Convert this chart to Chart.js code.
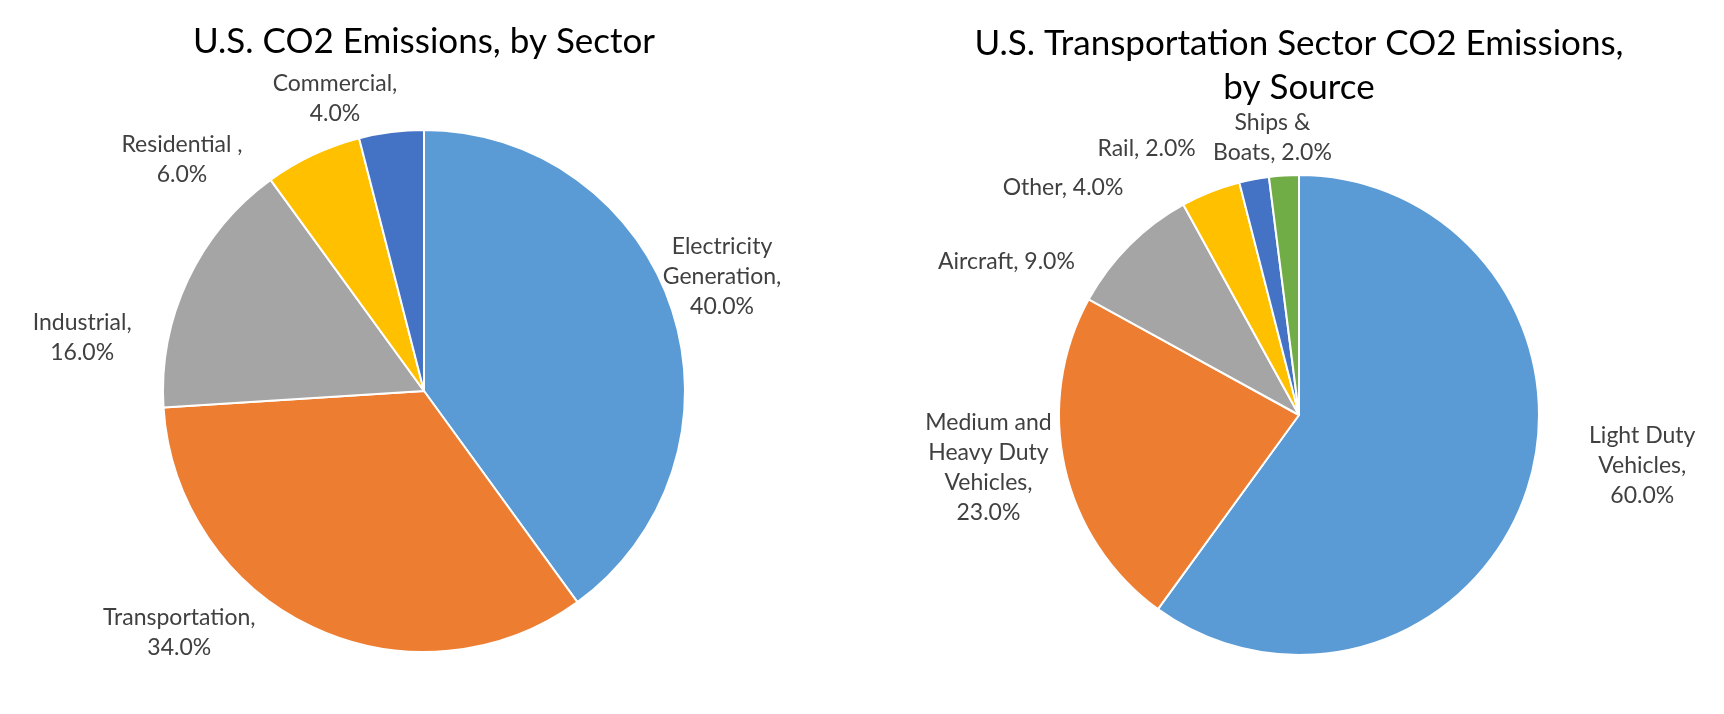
<!DOCTYPE html>
<html>
<head>
<meta charset="utf-8">
<script src="https://cdn.jsdelivr.net/npm/chart.js@4.4.1/dist/chart.umd.min.js"></script>
<style>
  body { margin: 0; background: #fff; }
  .box { position: absolute; top: 0; width: 862px; height: 714px; }
</style>
</head>
<body>
<div class="box" style="left:0"><canvas id="sector" width="862" height="714"></canvas></div>
<div class="box" style="left:862px"><canvas id="source" width="862" height="714"></canvas></div>
<script>
// Datos del primer pie (por sector)
const sectorTitle = 'U.S. CO2 Emissions, by Sector';
const sectorLabels = ['Electricity Generation', 'Transportation', 'Industrial', 'Residential ', 'Commercial'];
const sectorValues = [40, 34, 16, 6, 4];

// Datos del segundo pie (transporte, por fuente)
const sourceTitle = ['U.S. Transportation Sector CO2 Emissions,', 'by Source'];
const sourceLabels = ['Light Duty Vehicles', 'Medium and Heavy Duty Vehicles', 'Aircraft', 'Other', 'Rail', 'Ships & Boats'];
const sourceValues = [60, 23, 9, 4, 2, 2];

// Colores tipo Office
const colors = ['#5B9BD5', '#ED7D31', '#A5A5A5', '#FFC000', '#4472C4', '#70AD47'];

const FONT = 'Lato, "Liberation Sans", sans-serif';

// Parte el texto en líneas según un ancho máximo
function wrap(ctx, text, maxW) {
  let words = text.split(' ');
  let lines = [];
  let cur = '';
  words.forEach(w => {
    let test = cur ? cur + ' ' + w : w;
    if (cur && ctx.measureText(test).width > maxW) { lines.push(cur); cur = w; }
    else cur = test;
  });
  if (cur) lines.push(cur);
  return lines;
}

// Plugin que pinta las etiquetas fuera del pie (como Excel)
const pieLabels = {
  id: 'pieLabels',
  afterDatasetsDraw(chart, args, opts) {
    const ctx = chart.ctx;
    const meta = chart.getDatasetMeta(0);
    const values = chart.data.datasets[0].data;
    ctx.save();
    ctx.font = opts.size + 'px ' + FONT;
    ctx.fillStyle = opts.color;
    ctx.textAlign = 'center';
    ctx.textBaseline = 'middle';
    meta.data.forEach((arc, i) => {
      const p = arc.getProps(['x', 'y', 'startAngle', 'endAngle', 'outerRadius'], true);
      const mid = (p.startAngle + p.endAngle) / 2;
      const dx = Math.cos(mid), dy = Math.sin(mid);
      const text = chart.data.labels[i] + ', ' + values[i].toFixed(1) + '%';
      const lines = wrap(ctx, text, opts.wrap[i]);
      const w = Math.max(...lines.map(l => ctx.measureText(l).width));
      const h = lines.length * opts.lineHeight;
      const r = p.outerRadius + opts.gap;
      const cx = p.x + dx * r + dx * w / 2 + opts.shift[i][0];
      const cy = p.y + dy * r + dy * h / 2 + opts.shift[i][1];
      lines.forEach((l, k) => ctx.fillText(l, cx, cy - h / 2 + opts.lineHeight * (k + 0.5)));
    });
    ctx.restore();
  }
};

function pieConfig(title, labels, values, pad, titlePad, titleLH, labelOpts) {
  return {
    type: 'pie',
    data: {
      labels: labels,
      datasets: [{
        data: values,
        backgroundColor: colors.slice(0, values.length),
        borderColor: '#ffffff',
        borderWidth: 2
      }]
    },
    options: {
      responsive: false,
      animation: false,
      layout: { padding: pad },
      plugins: {
        legend: { display: false },
        tooltip: { enabled: false },
        title: {
          display: true,
          text: title,
          color: '#000000',
          font: { family: FONT, size: 35, weight: 'normal', lineHeight: titleLH },
          padding: titlePad
        },
        pieLabels: labelOpts
      }
    },
    plugins: [pieLabels]
  };
}

new Chart(document.getElementById('sector'), pieConfig(
  sectorTitle, sectorLabels, sectorValues,
  { left: 94, right: 108, top: 0, bottom: 61 },
  { top: 21, bottom: 66 }, 1.2,
  {
    size: 23, lineHeight: 30, gap: 12, color: '#404040',
    wrap: [132, 132, 132, 132, 132],
    shift: [[-18, -16], [-96, -33], [-50, 76], [-100, 43], [-47, 8]]
  }
));

new Chart(document.getElementById('source'), pieConfig(
  sourceTitle, sourceLabels, sourceValues,
  { left: 112, right: 100, top: 0, bottom: 58 },
  { top: 22, bottom: 64 }, 44 / 35,
  {
    size: 23, lineHeight: 30, gap: 12, color: '#404040',
    wrap: [143, 143, 190, 190, 190, 143],
    shift: [[53, -41], [-3, -15], [-66, 35], [-121, 21], [-96, -4], [-7, 4]]
  }
));
</script>
</body>
</html>
